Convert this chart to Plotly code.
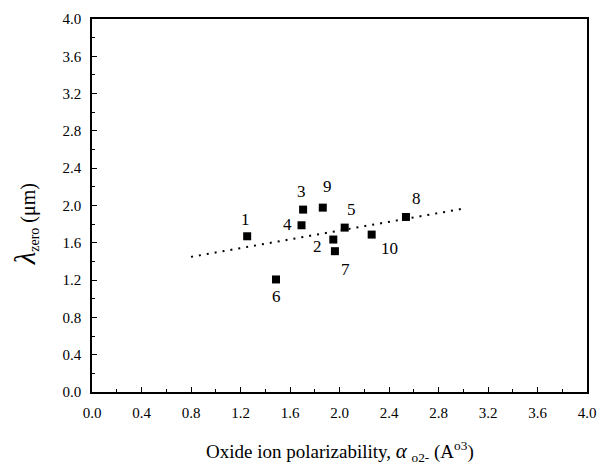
import plotly.graph_objects as go

# Oxide ion polarizability (A^3) and zero-dispersion wavelength (um) per glass
labels = ["1", "2", "3", "4", "5", "6", "7", "8", "9", "10"]
alpha = [1.254, 1.950, 1.706, 1.693, 2.042, 1.487, 1.963, 2.537, 1.865, 2.260]
lam_zero = [1.670, 1.635, 1.956, 1.788, 1.763, 1.207, 1.510, 1.877, 1.977, 1.688]

# Linear trend line end points
fit_x = [0.8, 3.0]
fit_y = [1.449, 1.966]

# label offsets in pixels (dx, dy)
offsets = {
    "1": (-2, 17), "2": (-16, -7), "3": (-2, 18), "4": (-14, 1),
    "5": (7, 18), "6": (0, -17), "7": (11, -18), "8": (11, 18),
    "9": (5, 21), "10": (18, -14),
}

FONT = "Times New Roman"

fig = go.Figure()
fig.add_trace(go.Scatter(
    x=fit_x, y=fit_y, mode="lines",
    line=dict(color="black", width=2, dash="2px,6px"),
    hoverinfo="skip", showlegend=False,
))
fig.add_trace(go.Scatter(
    x=alpha, y=lam_zero, mode="markers",
    marker=dict(symbol="square", size=8, color="black"),
    showlegend=False,
))

for lab, xv, yv in zip(labels, alpha, lam_zero):
    dx, dy = offsets[lab]
    fig.add_annotation(
        x=xv, y=yv, text=lab, showarrow=False,
        xshift=dx, yshift=dy,
        font=dict(family=FONT, size=17, color="black"),
    )

axis_common = dict(
    showgrid=False, zeroline=False, showline=True, linecolor="black",
    linewidth=1.5, mirror=True, ticks="inside", ticklen=5, tickwidth=1,
    tickcolor="black", tickformat=".1f",
    tickfont=dict(family=FONT, size=15, color="black"),
    minor=dict(ticks="inside", ticklen=3, tickwidth=1, tickcolor="black", dtick=0.2),
)

fig.update_xaxes(range=[0, 4], dtick=0.4, tick0=0, ticklabelstandoff=6, **axis_common)
fig.update_yaxes(range=[0, 4], dtick=0.4, tick0=0, ticklabelstandoff=6, **axis_common)

# axis titles
fig.add_annotation(
    xref="paper", yref="paper", x=0.5, y=-0.16, yanchor="middle",
    text=('Oxide ion polarizability, <span style="font-size:21px"><i>α</i></span> '
          '<sub>o2-</sub> (A<sup>o3</sup>)'),
    showarrow=False, font=dict(family=FONT, size=19, color="black"),
)
fig.add_annotation(
    xref="paper", yref="paper", x=-0.135, y=0.45, xanchor="center",
    text='<span style="font-size:29px"><i>λ</i></span><sub>zero</sub> (μm)',
    textangle=-90, showarrow=False,
    font=dict(family=FONT, size=20, color="black"),
)

fig.update_layout(
    width=607, height=473,
    margin=dict(l=92, r=11, t=18, b=81),
    paper_bgcolor="white", plot_bgcolor="white",
    font=dict(family=FONT, color="black"),
)

fig.write_html("out.html")
